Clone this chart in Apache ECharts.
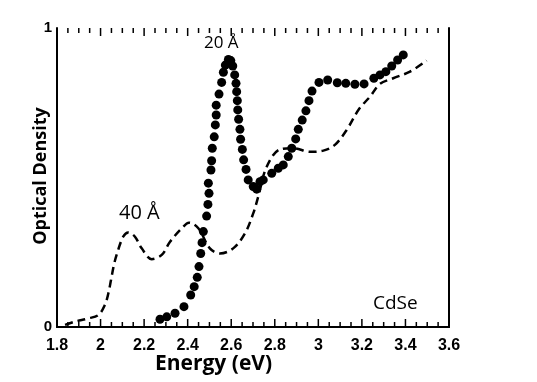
<!DOCTYPE html>
<html>
<head>
<meta charset="utf-8">
<script src="https://cdn.jsdelivr.net/npm/echarts@6/dist/echarts.min.js"></script>
<style>
html,body{margin:0;padding:0;background:#fff;}
#chart{width:537px;height:382px;}
</style>
</head>
<body>
<div id="chart"></div>
<script>
// Tick labels
var xTickLabels = ['1.8','2','2.2','2.4','2.6','2.8','3','3.2','3.4','3.6'];
var yTickLabels = ['0','1'];
// Tick positions (eV)
var majorTicks = [1.8,2.0,2.2,2.4,2.6,2.8,3.0,3.2,3.4,3.6];
var minorTicks = [1.85,1.9,1.95,2.05,2.1,2.15,2.25,2.3,2.35,2.45,2.5,2.55,2.65,2.7,2.75,2.85,2.9,2.95,3.05,3.1,3.15,3.25,3.3,3.35,3.45,3.5,3.55];

// 20 Å (dots): energy (eV)
var dotsX = [2.273,2.304,2.342,2.383,2.414,2.430,2.444,2.452,2.460,2.466,2.472,2.487,2.493,2.498,2.495,2.507,2.510,2.513,2.522,2.527,2.531,2.531,2.544,2.556,2.564,2.573,2.587,2.598,2.607,2.616,2.622,2.625,2.628,2.630,2.634,2.640,2.643,2.651,2.657,2.668,2.678,2.701,2.717,2.732,2.747,2.786,2.816,2.839,2.862,2.878,2.896,2.908,2.926,2.943,2.957,2.971,3.003,3.043,3.087,3.126,3.168,3.210,3.255,3.283,3.310,3.337,3.364,3.390];
// 20 Å (dots): optical density
var dotsY = [0.026,0.034,0.046,0.068,0.107,0.135,0.166,0.202,0.246,0.282,0.319,0.371,0.410,0.447,0.481,0.525,0.556,0.598,0.636,0.676,0.709,0.742,0.779,0.818,0.852,0.876,0.895,0.891,0.873,0.843,0.815,0.787,0.757,0.726,0.695,0.661,0.628,0.594,0.559,0.527,0.492,0.470,0.461,0.486,0.492,0.514,0.531,0.542,0.570,0.598,0.629,0.661,0.692,0.723,0.757,0.789,0.818,0.826,0.817,0.815,0.812,0.813,0.832,0.843,0.854,0.873,0.893,0.910];

// 40 Å (dashed): energy (eV)
var dashX = [1.837,1.883,1.944,1.990,2.020,2.036,2.048,2.063,2.081,2.104,2.127,2.158,2.189,2.235,2.281,2.319,2.373,2.406,2.449,2.502,2.548,2.609,2.663,2.701,2.724,2.763,2.824,2.885,2.962,3.023,3.076,3.130,3.187,3.237,3.283,3.344,3.421,3.497];
// 40 Å (dashed): optical density
var dashY = [0.007,0.018,0.029,0.040,0.074,0.113,0.157,0.213,0.258,0.302,0.316,0.302,0.263,0.227,0.241,0.285,0.330,0.349,0.330,0.263,0.246,0.263,0.313,0.380,0.436,0.536,0.594,0.598,0.586,0.590,0.609,0.659,0.729,0.770,0.813,0.832,0.854,0.891];

function zip(a, b) { return a.map(function (v, i) { return [v, b[i]]; }); }
function at(arr, y) { return arr.map(function (v) { return [v, y]; }); }

var chart = echarts.init(document.getElementById('chart'));
var tickFont = 'Liberation Sans';
var textFont = '"Open Sans", "Noto Sans", sans-serif';

function xAxisDef(pos, showLabel) {
  return {
    type: 'value', min: 1.8, max: 3.6, interval: 0.2, position: pos,
    axisLine: {show: true, lineStyle: {color: '#000', width: 2}},
    axisTick: {show: false},
    splitLine: {show: false},
    axisLabel: {
      show: showLabel,
      margin: 11, color: '#000', fontFamily: tickFont, fontWeight: 'bold', fontSize: 16,
      formatter: function (v) { return xTickLabels[Math.round((v - 1.8) / 0.2)]; }
    }
  };
}

// inward tick marks drawn as thin rect symbols placed by the axis scales
function tickSeries(name, values, y, len) {
  return {
    name: name, type: 'scatter', silent: true, clip: false, z: 4,
    symbol: 'rect', symbolSize: [1.5, len],
    symbolOffset: [0, y === 0 ? -len / 2 : len / 2],
    data: at(values, y),
    itemStyle: {color: '#000', opacity: 1}
  };
}

chart.setOption({
  animation: false,
  grid: {left: 57, right: 88, top: 28, bottom: 55},
  xAxis: [xAxisDef('bottom', true), xAxisDef('top', false)],
  yAxis: [{
    type: 'value', min: 0, max: 1, interval: 1, position: 'left',
    axisLine: {show: true, lineStyle: {color: '#000', width: 2}},
    axisTick: {show: false},
    splitLine: {show: false},
    axisLabel: {
      margin: 5, color: '#000', fontFamily: tickFont, fontWeight: 'bold', fontSize: 15,
      formatter: function (v) { return yTickLabels[Math.round(v)]; }
    }
  }, {
    type: 'value', min: 0, max: 1, interval: 1, position: 'right',
    axisLine: {show: true, lineStyle: {color: '#000', width: 2}},
    axisTick: {show: false}, splitLine: {show: false}, axisLabel: {show: false}
  }],
  series: [
    tickSeries('majorBottom', majorTicks, 0, 8),
    tickSeries('majorTop', majorTicks, 1, 8),
    tickSeries('minorBottom', minorTicks, 0, 5),
    tickSeries('minorTop', minorTicks, 1, 5),
    {
      name: '40 Å', type: 'line', smooth: 0.35, showSymbol: false,
      data: zip(dashX, dashY),
      lineStyle: {color: '#000', width: 2.5, type: [8, 5]}
    }, {
      name: '20 Å', type: 'scatter', symbol: 'circle', symbolSize: 9,
      data: zip(dotsX, dotsY),
      itemStyle: {color: '#000', opacity: 1}
    }
  ],
  graphic: [
    {type: 'text', left: 204, top: 35, style: {text: '20 Å', font: '17px ' + textFont, fill: '#000'}},
    {type: 'text', left: 119, top: 203, style: {text: '40 Å', font: '20px ' + textFont, fill: '#000'}},
    {type: 'text', left: 373, top: 294, style: {text: 'CdSe', font: '19px ' + textFont, fill: '#000'}},
    {type: 'text', left: 155, top: 354, style: {text: 'Energy (eV)', font: 'bold 21px ' + textFont, fill: '#000'}},
    {type: 'text', x: 41, y: 176, rotation: Math.PI / 2,
      style: {text: 'Optical Density', font: 'bold 18px ' + textFont, fill: '#000', align: 'center', verticalAlign: 'middle'}}
  ]
});
</script>
</body>
</html>
